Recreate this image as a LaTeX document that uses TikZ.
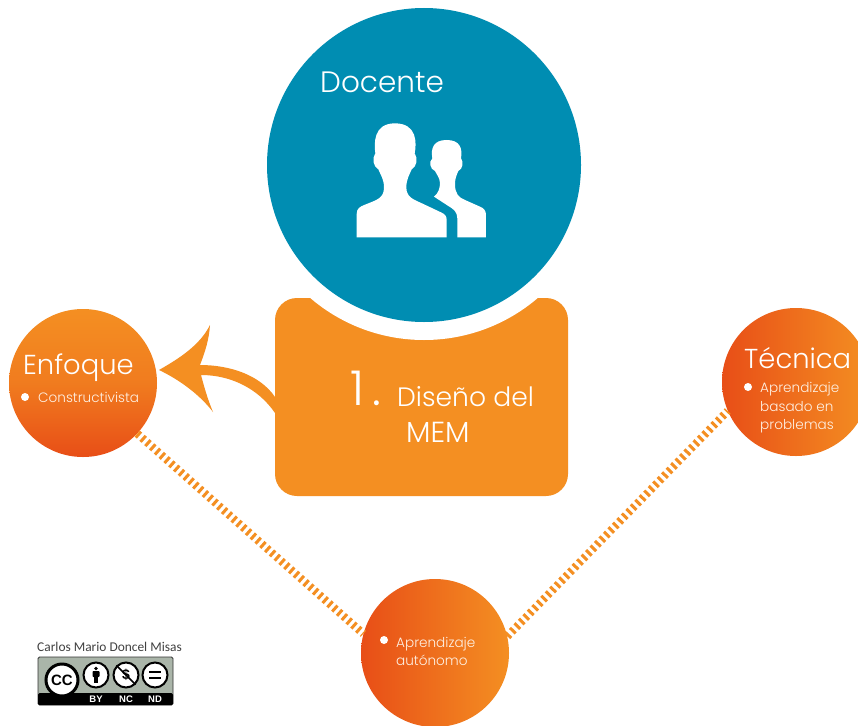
\documentclass[tikz,border=0pt]{standalone}
\usepackage{fontspec}
\setmainfont{Poppins Light}
\newfontfamily\authorfont{Carlito}
\newfontfamily\badgefont[Scale=1]{Liberation Sans}
\definecolor{blueC}{HTML}{008DB2}
\definecolor{orangeC}{HTML}{F48F22}
\definecolor{redC}{HTML}{E84E17}
\definecolor{badgeC}{HTML}{AAB5A9}
\tikzset{
  disc/.style={circle,inner sep=0pt,minimum size=148pt},
  vgrad/.style={top color=orangeC,bottom color=redC,middle color=orangeC!70!redC},
  hgrad/.style={left color=redC,right color=orangeC,middle color=orangeC!50!redC},
  hatch/.style={draw=orangeC,line width=8pt,dash pattern=on 3pt off 3.4pt},
  lab/.style={text=white,inner sep=0pt,anchor=base west},
  sub/.style={lab,text=white!88!orangeC,font=\fontsize{13.6}{15}\selectfont},
  dot/.style={circle,fill=white,inner sep=0pt,minimum size=8pt},
  ccring/.style={circle,draw=black,fill=white,inner sep=0pt},
  cclab/.style={text=white,inner sep=0pt,font=\badgefont\bfseries\fontsize{9.5}{10}\selectfont}
}
\begin{document}
\begin{tikzpicture}[x=1pt,y=-1pt]
\useasboundingbox[fill=white] (0,0) rectangle (858,725);
% main box and halo
\node[fill=orangeC,rounded corners=22pt,minimum width=293pt,minimum height=198pt,inner sep=0pt] (box) at (421.5,397) {};
\node[circle,fill=white,inner sep=0pt,minimum size=350pt] (halo) at (424,165) {};
\node[circle,fill=blueC,inner sep=0pt,minimum size=314pt] (docente) at (424,165) {};
\node[lab,font=\fontsize{29.5}{32}\selectfont] (tdoc) at (320,92) {Docente};
% people icon
\begin{scope}[shift={(340,110)},x=0.3333pt,y=-0.3333pt]
\fill[white] (50,382) -- (50,312) .. controls (50,295) and (60,290) .. (75,284)
  .. controls (110,270) and (132,265) .. (132,232) .. controls (132,208) and (122,195) .. (115,178)
  .. controls (100,170) and (95,145) .. (106,130) .. controls (102,100) and (100,40) .. (165,40)
  .. controls (232,40) and (230,100) .. (224,130) .. controls (235,145) and (230,170) .. (215,178)
  .. controls (208,195) and (199,208) .. (199,232) .. controls (199,262) and (220,268) .. (250,282)
  -- (305,308) .. controls (315,313) and (320,318) .. (320,330) -- (320,382) -- cycle;
\fill[white] (352,382) -- (352,325) .. controls (352,305) and (340,297) .. (325,288)
  -- (282,260) .. controls (295,250) and (300,235) .. (300,218) .. controls (298,200) and (290,195) .. (285,183)
  .. controls (270,178) and (266,155) .. (277,145) .. controls (272,115) and (280,90) .. (320,90)
  .. controls (360,90) and (368,115) .. (363,145) .. controls (372,155) and (368,178) .. (355,183)
  .. controls (350,195) and (345,205) .. (345,222) .. controls (345,250) and (355,262) .. (375,270)
  -- (420,290) .. controls (432,295) and (438,302) .. (438,315) -- (438,382) -- cycle;
\end{scope}
% box text
\node[lab,font=\fontsize{48}{50}\selectfont] (tone) at (350,405) {1\kern 8pt.};
\node[lab,font=\fontsize{26.6}{30}\selectfont] (tdis) at (397,406) {Diseño del};
\node[lab,font=\fontsize{29}{30}\selectfont] (tmem) at (406,442) {MEM};
% discs
\node[disc,vgrad] (enf) at (83,383) {};
\node[disc,hgrad] (tec) at (796,382) {};
\node[disc,hgrad] (aut) at (435,653) {};
% hatched connectors
\draw[hatch] (enf.-43) -- (aut.165);
\draw[hatch] (aut.13) -- (tec.203);
% arrow
\fill[orangeC] (159,370) .. controls (180,358) and (200,345) .. (210,325)
  .. controls (209,340) and (205,352) .. (200,365)
  .. controls (230,365) and (260,375) .. (275,397) -- (275,413)
  .. controls (258,388) and (230,375) .. (201,375)
  .. controls (205,390) and (208,400) .. (213,412)
  .. controls (200,395) and (180,380) .. (159,370) -- cycle;
% disc text
\node[lab,font=\fontsize{27.4}{29}\selectfont] (tenf) at (23,374) {Enfoque};
\node[dot] (denf) at (25,397) {};
\node[sub] (tcon) at (38,402) {Constructivista};
\node[lab,font=\fontsize{27.4}{29}\selectfont] (ttec) at (744,368) {Técnica};
\node[dot] (dtec) at (748,387) {};
\node[sub] (ta1) at (760,392) {Aprendizaje};
\node[sub] (ta2) at (760,411) {basado en};
\node[sub] (ta3) at (760,429) {problemas};
\node[dot] (daut) at (384,640) {};
\node[sub] (tb1) at (396,647) {Aprendizaje};
\node[sub] (tb2) at (396,665) {autónomo};
% licence
\node[inner sep=0pt,anchor=base west,text=black!75,font=\authorfont\fontsize{13.4}{14}\selectfont] (auth) at (37,651) {Carlos Mario Doncel Misas};
\node[fill=badgeC,draw=black!80,line width=0.8pt,rounded corners=1.5pt,minimum width=135pt,minimum height=48pt,inner sep=0pt] (badge) at (105.5,681) {};
\fill[black,rounded corners=1.5pt] (38,693) rectangle (173,705);
\node[ccring,line width=3pt,minimum size=32pt,font=\badgefont\bfseries\fontsize{15}{15}\selectfont] (cc) at (62,680) {CC};
\node[ccring,line width=2pt,minimum size=25pt] (by) at (96,675) {};
\node[ccring,line width=2pt,minimum size=25pt,font=\badgefont\bfseries\fontsize{14}{14}\selectfont] (nc) at (126,675) {\$};
\node[ccring,line width=2pt,minimum size=25pt] (nd) at (155,675) {};
\fill[black] (96,668.5) circle (1.8pt);
\fill[black,rounded corners=0.8pt] (92.5,671) rectangle (99.5,677);
\fill[black] (94,676) rectangle (98,683);
\draw[black,line width=1.6pt] (nc.north west) -- (nc.south east);
\fill[black] (149,670.8) rectangle (161,673.4);
\fill[black] (149,676.6) rectangle (161,679.2);
\node[cclab] (lby) at (96,699) {BY};
\node[cclab] (lnc) at (126,699) {NC};
\node[cclab] (lnd) at (155,699) {ND};
\end{tikzpicture}
\end{document}
